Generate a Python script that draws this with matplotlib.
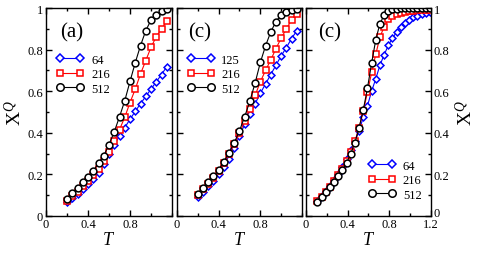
import numpy as np
import matplotlib
matplotlib.use("Agg")
import matplotlib.pyplot as plt
from matplotlib.ticker import MultipleLocator

plt.rcParams["font.family"] = ["Liberation Serif", "DejaVu Serif"]
plt.rcParams["mathtext.fontset"] = "custom"
plt.rcParams["mathtext.rm"] = "Liberation Serif"
plt.rcParams["mathtext.it"] = "Liberation Serif:italic"

# panel (a)
t_a = [0.20, 0.25, 0.30, 0.35, 0.40, 0.45, 0.50, 0.55, 0.60, 0.65,
       0.70, 0.75, 0.80, 0.85, 0.90, 0.95, 1.00, 1.05, 1.10, 1.15]
a_64 = [0.065, 0.085, 0.106, 0.128, 0.152, 0.178, 0.207, 0.250, 0.300, 0.343,
        0.385, 0.425, 0.465, 0.503, 0.540, 0.575, 0.610, 0.645, 0.680, 0.718]
a_216 = [0.074, 0.094, 0.117, 0.142, 0.167, 0.195, 0.228, 0.265, 0.310, 0.360,
         0.415, 0.475, 0.545, 0.610, 0.683, 0.747, 0.811, 0.862, 0.899, 0.936]
a_512 = [0.082, 0.109, 0.135, 0.162, 0.189, 0.218, 0.253, 0.290, 0.343, 0.405,
         0.477, 0.554, 0.647, 0.737, 0.819, 0.891, 0.942, 0.968, 0.984, 0.995]

# panel (c) middle
t_b = t_a
b_125 = [0.090, 0.115, 0.142, 0.170, 0.200, 0.235, 0.272, 0.328, 0.386, 0.440,
         0.490, 0.540, 0.590, 0.635, 0.680, 0.725, 0.770, 0.810, 0.853, 0.891]
b_216 = [0.100, 0.128, 0.156, 0.185, 0.217, 0.255, 0.298, 0.345, 0.400, 0.455,
         0.515, 0.580, 0.645, 0.700, 0.750, 0.805, 0.855, 0.900, 0.942, 0.970]
b_512 = [0.106, 0.133, 0.162, 0.190, 0.222, 0.262, 0.305, 0.352, 0.410, 0.478,
         0.553, 0.640, 0.738, 0.818, 0.885, 0.935, 0.966, 0.980, 0.990, 0.995]

# panel (c) right
t_c = [0.11, 0.15, 0.19, 0.23, 0.27, 0.31, 0.35, 0.39, 0.43, 0.47,
       0.51, 0.55, 0.59, 0.63, 0.67, 0.71, 0.75, 0.79, 0.83, 0.87,
       0.91, 0.95, 0.99, 1.03, 1.07, 1.11, 1.15, 1.19]
c_64 = [0.072, 0.095, 0.120, 0.146, 0.173, 0.203, 0.236, 0.272, 0.315, 0.360,
        0.410, 0.475, 0.530, 0.600, 0.660, 0.725, 0.775, 0.820, 0.855, 0.885,
        0.908, 0.928, 0.944, 0.955, 0.963, 0.970, 0.975, 0.979]
c_216 = [0.070, 0.092, 0.116, 0.140, 0.166, 0.195, 0.228, 0.265, 0.310, 0.360,
         0.425, 0.505, 0.595, 0.690, 0.778, 0.860, 0.910, 0.945, 0.962, 0.972,
         0.978, 0.982, 0.985, 0.987, 0.988, 0.989, 0.990, 0.990]
c_512 = [0.067, 0.090, 0.113, 0.138, 0.163, 0.190, 0.220, 0.255, 0.300, 0.353,
         0.425, 0.510, 0.615, 0.735, 0.848, 0.925, 0.966, 0.985, 0.993, 0.996,
         0.998, 0.998, 0.998, 0.998, 0.998, 0.998, 0.998, 0.998]

blue = "#0000ff"
red = "#ff0000"

fig = plt.figure(figsize=(4.85, 2.55), dpi=100)
ax1 = fig.add_axes([46/485, 1-217/255, 126/485, 208/255])
ax2 = fig.add_axes([177/485, 1-217/255, 125/485, 208/255])
ax3 = fig.add_axes([306/485, 1-217/255, 125/485, 208/255])


def draw(ax, t, ys, labels):
    styles = [("D", blue, 3.5), ("s", red, 4.3), ("o", "k", 4.9)]
    for y, lab, (m, c, ms) in zip(ys, labels, styles):
        ax.plot(t, y, marker=m, color=c, mfc="white", mec=c, ms=ms,
                mew=1.1, lw=0.8, label=lab)


draw(ax1, t_a, [a_64, a_216, a_512], ["64", "216", "512"])
draw(ax2, t_b, [b_125, b_216, b_512], ["125", "216", "512"])
draw(ax3, t_c, [c_64, c_216, c_512], ["64", "216", "512"])

for ax in (ax1, ax2, ax3):
    ax.set_xlim(0, 1.2)
    ax.set_ylim(0, 1)
    ax.xaxis.set_minor_locator(MultipleLocator(0.2))
    ax.yaxis.set_minor_locator(MultipleLocator(0.1))
    ax.tick_params(which="both", direction="in", top=True, right=True,
                   labelsize=9, width=1.0)
    ax.tick_params(which="major", length=4)
    ax.tick_params(which="minor", length=2.2)
    ax.tick_params(axis="x", pad=1.5)
    ax.tick_params(axis="y", pad=2)
    for s in ax.spines.values():
        s.set_linewidth(1.0)
    ax.set_xlabel("$T$", fontsize=13, labelpad=1)

for ax in (ax1, ax2):
    ax.set_xticks([0, 0.4, 0.8])
    ax.set_xticklabels(["0", "0.4", "0.8"])
ax3.set_xticks([0, 0.4, 0.8, 1.2])
ax3.set_xticklabels(["0", "0.4", "0.8", "1.2"])

yt = [0, 0.2, 0.4, 0.6, 0.8, 1.0]
ytl = ["0", "0.2", "0.4", "0.6", "0.8", "1"]
ax1.set_yticks(yt)
ax1.set_yticklabels(ytl)
ax2.set_yticks(yt)
ax2.set_yticklabels([])
ax3.set_yticks(yt)
ax3.set_yticklabels(ytl)
ax3.yaxis.tick_right()
ax3.tick_params(which="both", left=True, right=True, labelleft=False, labelright=True)
ax3.yaxis.set_label_position("right")
# the right-hand "0" sits just above "1.2"
ax3.get_yticklabels()[0].set_va("baseline")

ax1.set_ylabel(r"X$^{Q}$", fontsize=14, labelpad=2)
ax3.set_ylabel(r"X$^{Q}$", fontsize=14, rotation=90, labelpad=4)

ax1.text(0.11, 0.885, "(a)", transform=ax1.transAxes, fontsize=15, va="center")
ax2.text(0.088, 0.885, "(c)", transform=ax2.transAxes, fontsize=15, va="center")
ax3.text(0.10, 0.885, "(c)", transform=ax3.transAxes, fontsize=15, va="center")

leg_kw = dict(frameon=False, fontsize=9, numpoints=2, handlelength=2.2,
              handletextpad=0.55, labelspacing=0.2, borderpad=0,
              borderaxespad=0, markerscale=1.1)
ax1.legend(loc="upper left", bbox_to_anchor=(0.085, 0.78), **leg_kw)
ax2.legend(loc="upper left", bbox_to_anchor=(0.08, 0.78), **leg_kw)
ax3.legend(loc="upper left", bbox_to_anchor=(0.50, 0.27), **leg_kw)

fig.savefig("out.png", dpi=100)
